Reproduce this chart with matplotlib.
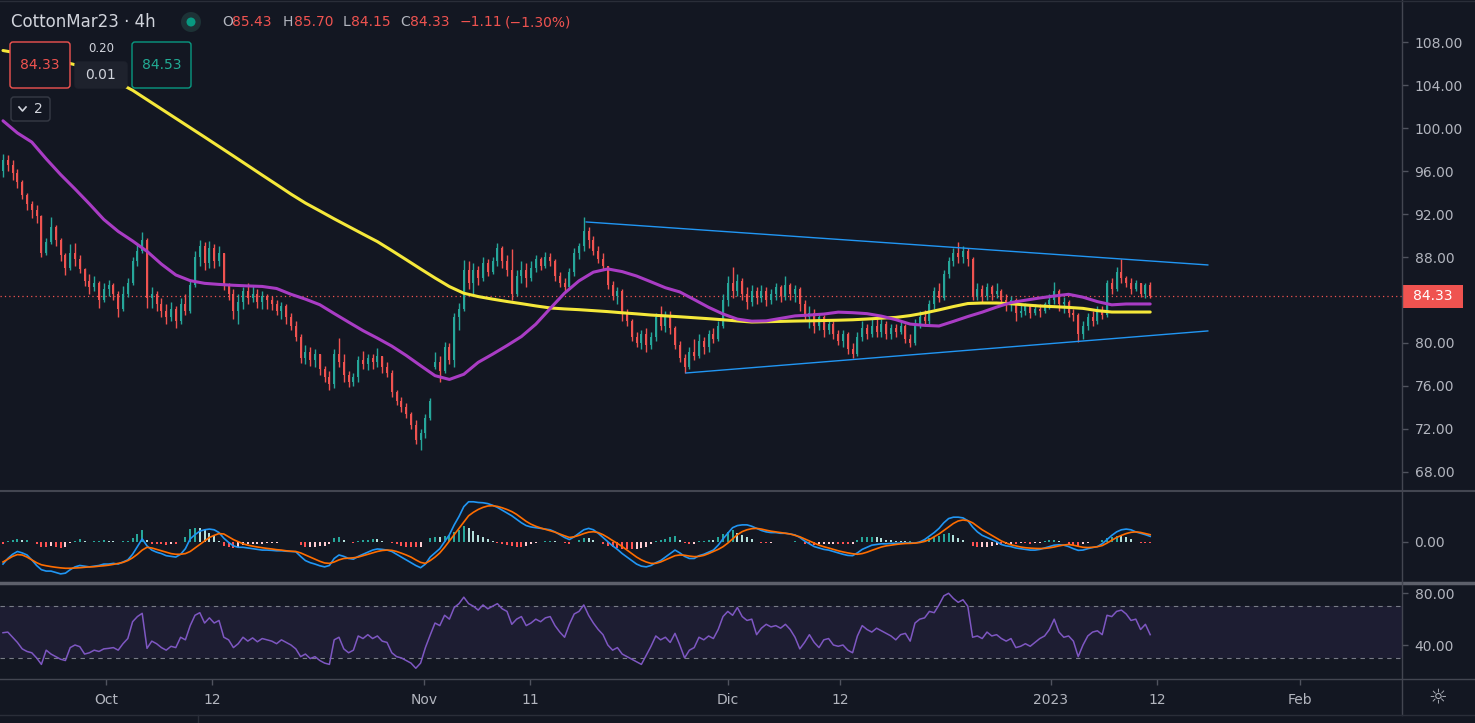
import matplotlib
matplotlib.use("Agg")
import matplotlib.pyplot as plt
from matplotlib.patches import FancyBboxPatch, Circle, Rectangle
from matplotlib.lines import Line2D
from matplotlib.ticker import FormatStrFormatter
from matplotlib.transforms import IdentityTransform, blended_transform_factory

W, H = 1475, 723
BG = '#131722'
TXT = '#b2b5be'
GRID = '#434651'
UP, DOWN = '#26a69a', '#ef5350'

# CottonMar23, 4h bars
opens = [
    96.0, 97.0, 96.6, 95.8, 95.0, 93.8, 92.9, 92.4, 91.8, 88.4,
    89.4, 90.8, 89.6, 88.2, 87.0, 88.4, 87.8, 86.9, 85.8, 85.2,
    85.6, 84.0, 85.0, 85.4, 84.6, 83.2, 84.6, 85.6, 87.6, 88.6,
    89.6, 84.2, 84.6, 83.6, 83.0, 82.4, 83.2, 82.0, 83.6, 83.0,
    85.4, 88.0, 89.0, 87.4, 88.8, 87.6, 88.4, 85.4, 84.6, 83.0,
    83.8, 84.8, 84.2, 84.6, 83.8, 84.4, 84.0, 83.6, 83.0, 83.4,
    82.4, 81.6, 80.6, 78.6, 79.2, 78.4, 79.0, 77.6, 76.8, 76.2,
    79.0, 78.2, 77.0, 76.4, 76.8, 78.4, 78.0, 78.6, 78.2, 78.8,
    77.8, 77.2, 75.4, 74.6, 74.0, 73.4, 72.4, 71.0, 71.6, 73.0,
    77.8, 78.2, 77.4, 79.6, 78.4, 82.4, 83.2, 86.8, 85.6, 86.8,
    86.0, 87.4, 86.6, 87.6, 88.8, 87.6, 86.8, 84.6, 86.2, 86.8,
    86.0, 87.0, 87.8, 87.2, 88.0, 87.6, 86.2, 85.6, 85.2, 86.6,
    88.4, 89.0, 90.4, 89.6, 88.6, 87.8, 87.2, 85.4, 84.4, 84.8,
    82.8, 82.0, 80.6, 80.0, 80.8, 79.8, 80.6, 82.4, 81.6, 82.6,
    81.4, 79.8, 78.6, 77.8, 79.2, 78.8, 80.2, 79.6, 80.8, 80.4,
    81.6, 84.0, 85.6, 84.8, 85.8, 84.6, 83.8, 84.8, 84.2, 84.8,
    84.0, 84.6, 85.2, 84.4, 85.4, 84.6, 85.0, 83.6, 82.4, 82.8,
    81.6, 82.4, 81.2, 81.8, 80.8, 80.2, 80.8, 79.4, 79.0, 80.6,
    81.4, 80.8, 81.6, 81.0, 81.8, 80.8, 81.4, 81.0, 81.6, 80.4,
    80.0, 81.8, 82.4, 82.0, 83.6, 84.8, 84.2, 86.4, 87.6, 88.4,
    88.0, 88.6, 87.8, 84.4, 85.0, 84.4, 85.2, 84.6, 84.8, 84.0,
    83.6, 84.0, 82.8, 83.0, 83.4, 82.8, 83.2, 83.0, 83.6, 84.0,
    84.8, 83.6, 83.8, 82.8, 82.6, 80.8, 81.6, 82.4, 82.0, 83.0,
    82.6, 85.6, 85.0, 86.6, 86.0, 85.6, 85.0, 85.6, 84.6, 85.43,
]
highs = [
    97.6, 97.5, 97.0, 96.2, 95.2, 94.0, 93.2, 92.8, 91.9, 89.8,
    91.7, 91.0, 89.8, 88.4, 89.2, 89.3, 88.2, 87.0, 86.4, 86.2,
    85.8, 85.6, 85.9, 85.6, 84.8, 85.3, 86.0, 88.0, 89.2, 90.3,
    89.8, 85.2, 84.8, 84.2, 83.6, 83.8, 83.4, 84.2, 84.6, 85.8,
    88.6, 89.6, 89.4, 89.5, 89.2, 89.0, 88.4, 85.6, 85.0, 84.6,
    85.2, 85.6, 85.4, 85.0, 84.8, 84.6, 84.4, 84.0, 83.8, 83.6,
    82.8, 82.0, 80.8, 79.8, 79.6, 79.4, 79.0, 77.9, 77.4, 79.4,
    80.5, 79.0, 77.4, 77.2, 78.8, 79.3, 79.0, 79.0, 79.5, 78.8,
    78.2, 77.5, 75.6, 75.0, 74.4, 73.6, 72.8, 72.0, 73.4, 74.9,
    79.2, 78.8, 80.1, 80.0, 82.8, 83.7, 87.7, 87.6, 87.4, 87.2,
    88.0, 87.8, 88.0, 89.3, 89.0, 88.2, 88.7, 86.8, 87.6, 87.4,
    87.6, 88.2, 88.0, 88.5, 88.4, 87.8, 86.6, 86.0, 87.0, 88.8,
    89.3, 91.7, 90.8, 90.0, 89.0, 88.4, 87.2, 85.8, 85.2, 85.0,
    83.2, 82.2, 81.0, 81.2, 81.4, 81.0, 82.8, 83.4, 83.0, 83.0,
    81.6, 80.2, 79.0, 79.6, 80.4, 80.8, 80.6, 81.2, 81.4, 82.0,
    84.6, 86.2, 87.1, 86.4, 86.0, 85.2, 85.4, 85.2, 85.4, 85.2,
    85.0, 85.6, 85.4, 86.2, 85.6, 85.4, 85.2, 84.0, 83.4, 83.2,
    82.8, 82.6, 82.2, 82.0, 81.2, 81.2, 81.0, 80.0, 81.0, 82.0,
    81.8, 82.2, 82.4, 82.2, 82.0, 81.8, 81.8, 82.0, 81.8, 80.8,
    82.2, 83.0, 83.1, 84.0, 85.2, 85.6, 86.8, 88.0, 88.8, 89.4,
    89.0, 88.8, 88.0, 85.6, 85.4, 85.6, 85.4, 85.6, 85.0, 84.6,
    84.4, 84.2, 83.6, 83.7, 83.6, 83.6, 83.6, 83.8, 84.6, 85.7,
    85.0, 84.3, 84.0, 83.2, 82.8, 82.0, 82.8, 83.0, 83.4, 83.4,
    85.9, 86.0, 87.1, 87.8, 86.2, 86.0, 85.9, 85.6, 85.6, 85.70,
]
lows = [
    95.4, 96.0, 95.2, 94.4, 93.4, 92.4, 91.6, 91.2, 88.0, 88.2,
    89.2, 89.0, 87.6, 86.3, 86.8, 87.2, 86.5, 85.3, 84.6, 84.8,
    83.3, 83.8, 84.4, 84.0, 82.4, 83.0, 84.3, 85.4, 87.2, 88.4,
    83.3, 83.3, 83.0, 82.4, 81.8, 82.0, 81.4, 81.8, 82.6, 82.8,
    85.2, 87.2, 86.8, 87.0, 87.0, 87.2, 84.9, 84.0, 82.2, 81.8,
    83.2, 83.6, 83.8, 83.3, 83.2, 83.2, 83.1, 82.6, 82.2, 81.8,
    81.2, 80.2, 78.1, 78.0, 77.9, 77.8, 77.0, 76.4, 75.6, 75.8,
    77.8, 76.4, 75.9, 76.0, 76.4, 77.6, 77.5, 77.6, 77.8, 77.2,
    76.8, 75.0, 74.2, 73.6, 73.0, 72.0, 70.6, 70.0, 71.2, 72.8,
    77.6, 76.4, 77.2, 78.0, 77.8, 81.2, 83.0, 85.0, 84.6, 85.4,
    85.8, 86.2, 86.4, 87.2, 87.0, 86.2, 84.0, 84.4, 85.6, 85.2,
    85.8, 86.6, 86.8, 87.0, 87.2, 85.8, 85.2, 84.8, 85.0, 86.2,
    87.8, 88.6, 88.8, 88.2, 87.4, 86.8, 85.0, 84.0, 83.6, 82.0,
    81.6, 80.2, 79.6, 79.4, 79.2, 79.4, 80.2, 81.2, 81.0, 80.8,
    79.4, 78.2, 77.2, 77.6, 78.4, 78.6, 79.0, 79.2, 80.0, 80.2,
    81.4, 83.4, 84.2, 84.4, 84.0, 83.2, 83.4, 83.6, 83.8, 83.4,
    83.6, 84.0, 83.8, 84.0, 84.0, 83.8, 83.0, 82.0, 81.4, 80.9,
    81.2, 80.6, 80.8, 80.4, 79.8, 79.6, 79.0, 78.6, 78.8, 80.2,
    80.4, 80.6, 80.6, 80.6, 80.4, 80.4, 80.6, 80.8, 80.0, 79.6,
    79.8, 81.4, 81.6, 81.8, 83.2, 83.8, 84.0, 86.0, 87.2, 87.4,
    87.4, 87.2, 84.0, 84.0, 83.8, 84.0, 84.0, 84.2, 83.6, 83.0,
    83.0, 82.0, 82.4, 82.6, 82.3, 82.6, 82.4, 82.8, 83.2, 83.6,
    83.0, 82.8, 82.4, 82.0, 80.1, 80.4, 81.2, 81.6, 81.8, 82.2,
    82.4, 84.6, 84.8, 85.6, 85.2, 84.6, 84.8, 84.3, 84.2, 84.15,
]
closes = [
    97.0, 96.6, 95.8, 95.0, 93.8, 92.9, 92.4, 91.8, 88.4, 89.4,
    90.8, 89.6, 88.2, 87.0, 88.4, 87.8, 86.9, 85.8, 85.2, 85.6,
    84.0, 85.0, 85.4, 84.6, 83.2, 84.6, 85.6, 87.6, 88.6, 89.6,
    84.2, 84.6, 83.6, 83.0, 82.4, 83.2, 82.0, 83.6, 83.0, 85.4,
    88.0, 89.0, 87.4, 88.8, 87.6, 88.4, 85.4, 84.6, 83.0, 83.8,
    84.8, 84.2, 84.6, 83.8, 84.4, 84.0, 83.6, 83.0, 83.4, 82.4,
    81.6, 80.6, 78.6, 79.2, 78.4, 79.0, 77.6, 76.8, 76.2, 79.0,
    78.2, 77.0, 76.4, 76.8, 78.4, 78.0, 78.6, 78.2, 78.8, 77.8,
    77.2, 75.4, 74.6, 74.0, 73.4, 72.4, 71.0, 71.6, 73.0, 74.6,
    78.2, 77.4, 79.6, 78.4, 82.4, 83.2, 86.8, 85.6, 86.8, 86.0,
    87.4, 86.6, 87.6, 88.8, 87.6, 86.8, 84.6, 86.2, 86.8, 86.0,
    87.0, 87.8, 87.2, 88.0, 87.6, 86.2, 85.6, 85.2, 86.6, 88.4,
    89.0, 90.4, 89.6, 88.6, 87.8, 87.2, 85.4, 84.4, 84.8, 82.8,
    82.0, 80.6, 80.0, 80.8, 79.8, 80.6, 82.4, 81.6, 82.6, 81.4,
    79.8, 78.6, 77.8, 79.2, 78.8, 80.2, 79.6, 80.8, 80.4, 81.6,
    84.0, 85.6, 84.8, 85.8, 84.6, 83.8, 84.8, 84.2, 84.8, 84.0,
    84.6, 85.2, 84.4, 85.4, 84.6, 85.0, 83.6, 82.4, 82.8, 81.6,
    82.4, 81.2, 81.8, 80.8, 80.2, 80.8, 79.4, 79.0, 80.6, 81.4,
    80.8, 81.6, 81.0, 81.8, 80.8, 81.4, 81.0, 81.6, 80.4, 80.0,
    81.8, 82.4, 82.0, 83.6, 84.8, 84.2, 86.4, 87.6, 88.4, 88.0,
    88.6, 87.8, 84.4, 85.0, 84.4, 85.2, 84.6, 84.8, 84.0, 83.6,
    84.0, 82.8, 83.0, 83.4, 82.8, 83.2, 83.0, 83.6, 84.0, 84.8,
    83.6, 83.8, 82.8, 82.6, 80.8, 81.6, 82.4, 82.0, 83.0, 82.6,
    85.6, 85.0, 86.6, 86.0, 85.6, 85.0, 85.6, 84.6, 85.43, 84.33,
]

# moving averages, sampled every 3 bars (+ last bar)
ma_idx = list(range(0, 240, 3)) + [239]
ma_slow = [
    107.21, 106.97, 106.72, 106.47, 106.22, 105.89, 105.33, 104.77, 104.21, 103.51,
    102.64, 101.77, 100.90, 100.03, 99.16, 98.28, 97.40, 96.51, 95.62, 94.74,
    93.85, 93.02, 92.29, 91.55, 90.84, 90.13, 89.43, 88.60, 87.75, 86.89,
    86.05, 85.25, 84.63, 84.32, 84.08, 83.86, 83.66, 83.45, 83.26, 83.17,
    83.10, 83.01, 82.92, 82.81, 82.71, 82.60, 82.52, 82.44, 82.35, 82.26,
    82.16, 82.05, 81.95, 81.98, 82.01, 82.04, 82.06, 82.09, 82.12, 82.16,
    82.23, 82.31, 82.38, 82.55, 82.79, 83.08, 83.39, 83.67, 83.72, 83.72,
    83.65, 83.54, 83.44, 83.38, 83.31, 83.22, 83.01, 82.88, 82.88, 82.88,
    82.88,
]
ma_fast = [
    100.67, 99.54, 98.69, 97.13, 95.67, 94.33, 92.94, 91.49, 90.38, 89.49,
    88.53, 87.34, 86.33, 85.80, 85.55, 85.45, 85.37, 85.31, 85.26, 85.07,
    84.53, 84.08, 83.56, 82.74, 81.94, 81.15, 80.45, 79.71, 78.84, 77.89,
    76.96, 76.61, 77.09, 78.20, 78.96, 79.76, 80.60, 81.75, 83.21, 84.64,
    85.78, 86.59, 86.89, 86.64, 86.23, 85.69, 85.14, 84.75, 84.04, 83.32,
    82.70, 82.22, 82.03, 82.06, 82.29, 82.52, 82.60, 82.69, 82.87, 82.82,
    82.73, 82.50, 82.17, 81.76, 81.64, 81.58, 82.01, 82.46, 82.87, 83.34,
    83.76, 83.98, 84.19, 84.37, 84.53, 84.26, 83.85, 83.55, 83.63, 83.63,
    83.63,
]

# triangle drawn by hand on the chart (bar index, price)
upper_line = ([121.5, 251.0], [91.26, 87.26])
lower_line = ([142.3, 251.0], [77.21, 81.12])

macd = [
    -1.6, -1.2, -0.9, -0.7, -0.8, -0.95, -1.3, -1.7, -2.0, -2.1,
    -2.1, -2.2, -2.3, -2.25, -2.0, -1.8, -1.7, -1.75, -1.8, -1.75,
    -1.7, -1.6, -1.6, -1.55, -1.6, -1.45, -1.3, -0.9, -0.35, 0.2,
    -0.3, -0.6, -0.75, -0.85, -1.0, -1.05, -1.1, -0.9, -0.5, 0.2,
    0.5, 0.75, 0.85, 0.9, 0.85, 0.65, 0.25, -0.05, -0.3, -0.4,
    -0.4, -0.45, -0.5, -0.55, -0.6, -0.6, -0.62, -0.65, -0.65, -0.68,
    -0.7, -0.72, -1.05, -1.35, -1.5, -1.6, -1.72, -1.8, -1.7, -1.2,
    -0.95, -1.05, -1.2, -1.25, -1.05, -0.9, -0.75, -0.6, -0.52, -0.55,
    -0.6, -0.7, -0.9, -1.1, -1.3, -1.5, -1.7, -1.86, -1.6, -1.1,
    -0.8, -0.5, 0.0, 0.5, 1.2, 1.8, 2.5, 2.85, 2.85, 2.8,
    2.78, 2.72, 2.6, 2.45, 2.25, 2.05, 1.85, 1.6, 1.35, 1.15,
    1.05, 1.0, 0.95, 0.9, 0.85, 0.7, 0.5, 0.3, 0.15, 0.35,
    0.6, 0.85, 0.95, 0.85, 0.6, 0.3, 0.0, -0.3, -0.55, -0.85,
    -1.1, -1.35, -1.6, -1.75, -1.8, -1.7, -1.5, -1.35, -1.1, -0.85,
    -0.6, -0.8, -1.05, -1.2, -1.2, -1.0, -0.9, -0.75, -0.6, -0.25,
    0.2, 0.6, 1.0, 1.15, 1.2, 1.2, 1.1, 0.95, 0.8, 0.7,
    0.65, 0.65, 0.6, 0.6, 0.55, 0.48, 0.3, 0.05, -0.15, -0.35,
    -0.45, -0.55, -0.6, -0.7, -0.8, -0.9, -0.98, -1.0, -0.8, -0.55,
    -0.4, -0.25, -0.2, -0.15, -0.15, -0.12, -0.12, -0.1, -0.1, -0.08,
    -0.1, -0.02, 0.15, 0.4, 0.65, 0.95, 1.35, 1.65, 1.75, 1.75,
    1.7, 1.5, 1.05, 0.7, 0.45, 0.3, 0.15, 0.0, -0.2, -0.3,
    -0.35, -0.45, -0.5, -0.55, -0.6, -0.6, -0.55, -0.45, -0.35, -0.25,
    -0.22, -0.25, -0.35, -0.5, -0.62, -0.6, -0.5, -0.42, -0.35, -0.15,
    0.15, 0.45, 0.7, 0.85, 0.9, 0.85, 0.7, 0.6, 0.5, 0.38,
]
signal = [
    -1.45, -1.25, -1.05, -0.92, -0.95, -1.1, -1.3, -1.5, -1.65, -1.72,
    -1.78, -1.83, -1.87, -1.9, -1.9, -1.88, -1.86, -1.83, -1.8, -1.79,
    -1.75, -1.72, -1.68, -1.62, -1.55, -1.48, -1.35, -1.15, -0.9, -0.6,
    -0.4, -0.45, -0.55, -0.65, -0.75, -0.85, -0.9, -0.9, -0.85, -0.7,
    -0.45, -0.2, 0.05, 0.3, 0.45, 0.58, 0.55, 0.35, 0.15, 0.0,
    -0.15, -0.25, -0.32, -0.38, -0.43, -0.48, -0.52, -0.57, -0.6, -0.65,
    -0.68, -0.7, -0.8, -0.95, -1.1, -1.25, -1.4, -1.52, -1.55, -1.45,
    -1.3, -1.2, -1.18, -1.15, -1.1, -1.0, -0.9, -0.8, -0.7, -0.63,
    -0.6, -0.62, -0.7, -0.82, -0.95, -1.1, -1.3, -1.48, -1.55, -1.35,
    -1.1, -0.8, -0.4, 0.05, 0.5, 0.95, 1.4, 1.85, 2.1, 2.3,
    2.45, 2.55, 2.57, 2.52, 2.42, 2.3, 2.15, 1.95, 1.7, 1.45,
    1.25, 1.1, 0.98, 0.88, 0.78, 0.68, 0.55, 0.42, 0.3, 0.35,
    0.45, 0.58, 0.68, 0.71, 0.65, 0.5, 0.3, 0.08, -0.12, -0.35,
    -0.6, -0.85, -1.1, -1.3, -1.45, -1.55, -1.55, -1.45, -1.3, -1.15,
    -1.0, -0.95, -0.97, -1.03, -1.07, -1.05, -0.98, -0.85, -0.7, -0.55,
    -0.36, -0.1, 0.2, 0.5, 0.72, 0.85, 0.93, 0.95, 0.9, 0.82,
    0.75, 0.7, 0.65, 0.6, 0.55, 0.45, 0.35, 0.2, 0.05, -0.1,
    -0.25, -0.36, -0.45, -0.55, -0.65, -0.73, -0.8, -0.86, -0.9, -0.85,
    -0.75, -0.62, -0.5, -0.38, -0.3, -0.25, -0.2, -0.16, -0.13, -0.12,
    -0.1, -0.06, 0.02, 0.15, 0.35, 0.55, 0.8, 1.05, 1.3, 1.48,
    1.55, 1.5, 1.35, 1.1, 0.85, 0.65, 0.45, 0.25, 0.05, -0.1,
    -0.22, -0.3, -0.38, -0.43, -0.46, -0.48, -0.49, -0.48, -0.44, -0.38,
    -0.3, -0.24, -0.2, -0.25, -0.33, -0.4, -0.42, -0.4, -0.36, -0.28,
    -0.1, 0.1, 0.3, 0.45, 0.58, 0.67, 0.7, 0.66, 0.58, 0.5,
]
rsi = [
    49.5, 50, 46, 42, 37, 35, 34, 30, 25, 36,
    33, 31, 29, 28, 38, 40, 38.7, 33, 34, 36,
    35, 37, 37.4, 38, 36, 41, 45, 58, 62, 64.5,
    37.4, 43, 41, 38, 36, 39, 38, 46, 44, 55,
    63, 65, 57, 61, 57, 59, 46, 44, 38, 41,
    46, 43, 45.5, 42.5, 45, 44, 43, 41, 44, 42,
    40, 37, 31, 33, 29.5, 31, 28, 26, 25, 44,
    46, 37, 34, 36, 47, 45, 48, 45, 47, 43,
    42, 34, 31, 30, 28, 26, 22, 26, 38, 47.7,
    57, 55, 63, 60, 69, 72, 77, 72, 70, 67,
    71, 68, 70, 72, 68, 66, 56, 60, 62, 55,
    57, 60, 58, 61, 62, 55, 50, 46, 56, 64,
    66, 71, 63, 57, 52, 48, 40, 36, 38, 33,
    31, 29, 27, 25, 32, 39, 47, 44, 46, 42,
    49, 40, 30, 36, 38, 46, 44, 47, 45, 52,
    62, 66, 63, 69, 62, 59, 60, 48, 53, 56,
    54, 55, 53, 56, 52, 46, 37, 42, 48, 42,
    38, 44, 45, 40, 39, 40, 36, 34, 47, 55,
    52, 50, 53, 51, 49, 47, 44, 48, 49, 43,
    57, 60, 61, 66, 65, 71, 78, 80, 76, 73,
    75, 70, 46, 47, 45, 50, 47, 48, 45, 43,
    45, 38, 39, 41, 39, 42, 45, 47, 52, 60,
    50, 46, 47, 43, 31, 40, 47, 50, 51, 48,
    63, 62, 66, 67, 64, 59, 60, 52, 56, 48,
]

price_ticks = [68, 72, 76, 80, 88, 92, 96, 100, 104, 108]
time_pos = [21.46, 43.54, 87.71, 109.79, 151.04, 174.38, 218.33, 240.42, 270.21]
time_labels = ['Oct', '12', 'Nov', '11', 'Dic', '12', '2023', '12', 'Feb']

x = list(range(len(closes)))

fig = plt.figure(figsize=(W / 100, H / 100), dpi=100, facecolor=BG)


def pane(top, bottom, share=None):
    a = fig.add_axes([0, 1 - bottom / H, 1402 / W, (bottom - top) / H],
                     facecolor=BG, sharex=share)
    for s in a.spines.values():
        s.set_visible(False)
    a.yaxis.tick_right()
    a.yaxis.set_major_formatter(FormatStrFormatter('%.2f'))
    a.tick_params(axis='y', length=4, width=1, color='#50535e', labelcolor=TXT,
                  labelsize=10, pad=5)
    a.tick_params(axis='x', bottom=False, labelbottom=False)
    return a


ax = pane(0, 491)
ax_macd = pane(491, 582.7, ax)
ax_rsi = pane(582.7, 679, ax)
ax.set_xlim(-0.625, 291.46)

# --- price pane ---
cols = [UP if c >= o else DOWN for o, c in zip(opens, closes)]
ax.vlines(x, lows, highs, colors=cols, lw=1.0, zorder=2)
ax.bar(x, [max(abs(c - o), 0.06) for o, c in zip(opens, closes)],
       bottom=[min(o, c) for o, c in zip(opens, closes)],
       width=0.45, color=cols, lw=0, zorder=2)
ax.plot(ma_idx, ma_slow, color='#f5e83a', lw=2.2, zorder=4, solid_capstyle='round',
        solid_joinstyle='round')
ax.plot(ma_idx, ma_fast, color='#a93cc4', lw=2.2, zorder=4, solid_capstyle='round',
        solid_joinstyle='round')
ax.plot(*upper_line, color='#2196f3', lw=1.0, zorder=3)
ax.plot(*lower_line, color='#2196f3', lw=1.0, zorder=3)
last = closes[-1]
ax.axhline(last, color=DOWN, lw=0.9, ls=(0, (1, 2.5)), zorder=1)
ax.set_ylim(66.23, 111.91)
ax.set_yticks(price_ticks)

bt = blended_transform_factory(ax.transAxes, ax.transData)
ax.add_patch(Rectangle((1.0, last - 1.07), 61 / 1402, 2.14, transform=bt,
                       fc=DOWN, ec='none', clip_on=False, zorder=10))
ax.text(1 + 11 / 1402, last, f'{last:.2f}', transform=bt, color='white',
        fontsize=10, va='center', ha='left', zorder=11, clip_on=False)

# --- MACD pane ---
hist = [m - s for m, s in zip(macd, signal)]
hcol = []
for i, h in enumerate(hist):
    prev = hist[i - 1] if i else h
    if h >= 0:
        hcol.append('#26a69a' if h > prev else '#b2dfdb')
    else:
        hcol.append('#ffcdd2' if h > prev else '#ff5252')
ax_macd.bar(x, hist, width=0.4, color=hcol, lw=0, zorder=2)
ax_macd.plot(x, macd, color='#2196f3', lw=1.2, zorder=3)
ax_macd.plot(x, signal, color='#ff6d00', lw=1.2, zorder=3)
ax_macd.set_ylim(-2.93, 3.62)
ax_macd.set_yticks([0])

# --- RSI pane ---
ax_rsi.axhspan(30, 70, color='#7e57c2', alpha=0.1, lw=0)
for lvl in (70, 30):
    ax_rsi.axhline(lvl, color='#787b86', lw=0.8, ls=(0, (4, 4)))
ax_rsi.plot(x, rsi, color='#7e57c2', lw=1.1)
ax_rsi.set_ylim(13.7, 88.2)
ax_rsi.set_yticks([40, 80])
ax_rsi.set_xticks(time_pos)
lbls = ax_rsi.set_xticklabels(time_labels)
ax_rsi.tick_params(axis='x', bottom=True, labelbottom=True, length=4, width=1,
                   color='#50535e', labelcolor=TXT, labelsize=10, pad=6)
for t in lbls:
    if t.get_text() == '2023':
        t.set_fontweight('bold')

# --- chart furniture in pixel coordinates ---
ident = IdentityTransform()


def ptext(px, py, s, **kw):
    kw.setdefault('va', 'center')
    kw.setdefault('zorder', 8)
    fig.text(px, H - py, s, transform=ident, **kw)


def pbox(x0, y0, x1, y1, ec, fc):
    fig.add_artist(FancyBboxPatch((x0, H - y1), x1 - x0, y1 - y0,
                                  boxstyle='round,pad=0,rounding_size=3',
                                  transform=ident, ec=ec, fc=fc, lw=1, zorder=5))


def pline(xs, ys, **kw):
    fig.add_artist(Line2D(xs, [H - v for v in ys], transform=ident, **kw))


pline([0, W], [491, 491], color=GRID, lw=1.5)
pline([0, W], [582.7, 582.7], color='#5d606b', lw=2.5)
pline([0, W], [679, 679], color=GRID, lw=1)
pline([1402, 1402], [0, 715], color=GRID, lw=1)
pline([0, W], [715, 715], color='#2a2e39', lw=1)
pline([198, 198], [715, 723], color='#2a2e39', lw=1)
pline([0, W], [0.5, 0.5], color='#2a2e39', lw=1)

ptext(11, 22, 'CottonMar23 · 4h', color='#d1d4dc', fontsize=12)
fig.add_artist(Circle((191, H - 22), 10, transform=ident, fc='#1d3236', ec='none', zorder=5))
fig.add_artist(Circle((191, H - 22), 4.5, transform=ident, fc='#089981', ec='none', zorder=6))
header = [('O', 222, TXT), (f'{opens[-1]:.2f}', 232, DOWN),
          ('H', 283, TXT), (f'{highs[-1]:.2f}', 294, DOWN),
          ('L', 343, TXT), (f'{lows[-1]:.2f}', 351, DOWN),
          ('C', 400, TXT), (f'{closes[-1]:.2f}', 410, DOWN),
          ('−1.11', 460, DOWN), ('(−1.30%)', 505, DOWN)]
for s, px, c in header:
    ptext(px, 22, s, color=c, fontsize=10)

pbox(10, 42, 70, 88, DOWN, BG)
ptext(40, 65, f'{last:.2f}', color=DOWN, fontsize=10, ha='center')
ptext(101, 49, '0.20', color='#d1d4dc', fontsize=8.5, ha='center')
pbox(75, 62, 127, 88, '#1e222d', '#1e222d')
ptext(101, 75, '0.01', color='#d1d4dc', fontsize=10, ha='center')
pbox(132, 42, 191, 88, '#089981', BG)
ptext(161.5, 65, '84.53', color='#22ab94', fontsize=10, ha='center')
pbox(11, 97, 50, 121, '#363a45', BG)
pline([19, 22.5, 26], [107, 111, 107], color='#d1d4dc', lw=1.2, zorder=7)
ptext(38, 109, '2', color='#d1d4dc', fontsize=10, ha='center')

ptext(1438, 697, '☼', color=TXT, fontsize=15, ha='center')

fig.savefig('out.png', dpi=100, facecolor=BG)
